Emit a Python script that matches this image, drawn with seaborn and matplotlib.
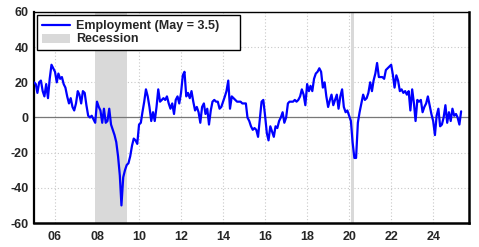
import matplotlib
matplotlib.use("Agg")
import matplotlib.pyplot as plt
from matplotlib.lines import Line2D
from matplotlib.patches import Patch
import seaborn as sns
import pandas as pd

# ---- data (monthly, Jan 2005 - May 2025) ----
start_month = "2005-01-01"
employment = [
    20, 19, 14, 20, 21, 15, 12, 19, 11, 22, 30, 28,    # 2005
    26, 20, 25, 22, 23, 19, 17, 12, 8, 11, 6, 4,       # 2006
    8, 15, 13, 8, 15, 14, 7, 1, 0, 1, -1, -3,          # 2007
    9, 6, 4, -3, 5, -3, -2, 5, -4, -7, -10, -14,       # 2008
    -22, -33, -50, -34, -30, -27, -26, -22, -16, -12, -13, -15,  # 2009
    -4, -3, 3, 9, 16, 12, 6, -2, 3, -2, 6, 16,         # 2010
    9, 10, 11, 10, 12, 8, 5, 8, 2, 10, 12, 8,          # 2011
    14, 24, 26, 12, 14, 11, 15, 9, 4, 6, 3, -3,        # 2012
    6, 8, 2, 5, -4, 4, 9, 10, 9, 9, 5, 6,              # 2013
    9, 12, 15, 21, 5, 12, 11, 10, 9, 9, 9, 8,          # 2014
    8, 8, 0, -2, -5, -7, -6, -7, -11, -1, 9, 10,       # 2015
    1, -9, -13, -5, -8, -11, -5, -6, -2, 0, 3, -3,     # 2016
    0, 8, 9, 9, 9, 10, 9, 10, 12, 16, 13, 7,           # 2017
    19, 15, 18, 15, 22, 25, 26, 28, 26, 17, 20, 12,    # 2018
    6, 10, 13, 7, 10, 13, 5, 12, 16, 6, 3, 4,          # 2019
    1, -2, -14, -23, -23, -3, 3, 8, 13, 10, 11, 14,    # 2020
    20, 15, 21, 25, 31, 23, 23, 23, 22, 27, 28, 29,    # 2021
    30, 24, 17, 24, 21, 15, 16, 14, 15, 13, 15, 4,     # 2022
    16, 8, -2, 10, 9, 10, 3, 6, 8, 12, 7, 2,           # 2023
    -2, -10, 1, 5, -5, -4, 0, 7, -3, 3, -2, 5,         # 2024
    1, 2, 0, -4, 3.5,                                  # 2025
]
recession_starts = ["2007-12-01", "2020-02-01"]
recession_ends = ["2009-06-01", "2020-04-01"]
tick_years = list(range(2006, 2026, 2))
tick_labels = ["06", "08", "10", "12", "14", "16", "18", "20", "22", "24"]
y_ticks = [-60, -40, -20, 0, 20, 40, 60]
series_label = "Employment (May = 3.5)"

df = pd.DataFrame({
    "date": pd.date_range(start_month, periods=len(employment), freq="MS"),
    "value": employment,
})

sns.set_theme(style="white")
plt.rcParams["font.family"] = ["Liberation Sans", "DejaVu Sans"]
plt.rcParams["font.weight"] = "bold"

fig = plt.figure(figsize=(4.79, 2.47), dpi=100)
ax = fig.add_axes([34 / 479, 1 - 223 / 247, (469 - 34) / 479, (223 - 12) / 247])

for s, e in zip(recession_starts, recession_ends):
    ax.axvspan(pd.Timestamp(s), pd.Timestamp(e), color="#d9d9d9", lw=0, zorder=1)

ax.axhline(0, color="#777777", lw=0.9, zorder=2)

sns.lineplot(data=df, x="date", y="value", ax=ax, color="#0000ff", lw=1.6, zorder=3)

ax.set_xlim(pd.Timestamp("2005-01-01"), pd.Timestamp("2025-09-15"))
ax.set_ylim(-60, 60)
ax.set_xticks([pd.Timestamp(f"{y}-01-01") for y in tick_years])
ax.set_xticklabels(tick_labels)
ax.set_yticks(y_ticks)
ax.set_yticklabels([str(v) for v in y_ticks])
ax.set_xlabel("")
ax.set_ylabel("")

ax.grid(True, which="major", color="#c8c8c8", linestyle=(0, (1, 2)), lw=0.8, zorder=0)
ax.set_axisbelow(True)

ax.tick_params(axis="both", labelsize=9, length=2.5, width=0.8, color="black",
               direction="out", pad=1.5)
ax.tick_params(axis="x", pad=3)
for lbl in ax.get_xticklabels() + ax.get_yticklabels():
    lbl.set_fontweight("bold")

for side, sp in ax.spines.items():
    sp.set_visible(True)
    sp.set_color("black")
    sp.set_linewidth(1.0)
ax.spines["left"].set_linewidth(1.6)
ax.spines["bottom"].set_linewidth(1.8)
ax.spines["right"].set_linewidth(1.8)

handles = [
    Line2D([0], [0], color="#0000ff", lw=1.6),
    Patch(facecolor="#d9d9d9", edgecolor="none"),
]
leg = ax.legend(handles, [series_label, "Recession"], loc="upper left",
                bbox_to_anchor=(3 / 435, 208 / 211, 203 / 435, 0.0), mode="expand",
                borderaxespad=0, frameon=True, fancybox=False,
                edgecolor="black", framealpha=1, borderpad=0.4,
                handlelength=2.25, handleheight=0.75, handletextpad=0.45,
                labelspacing=0.12, prop={"size": 9, "weight": "bold"})
leg.get_frame().set_linewidth(1.0)
leg.set_zorder(5)

fig.savefig("out.png", dpi=100)
